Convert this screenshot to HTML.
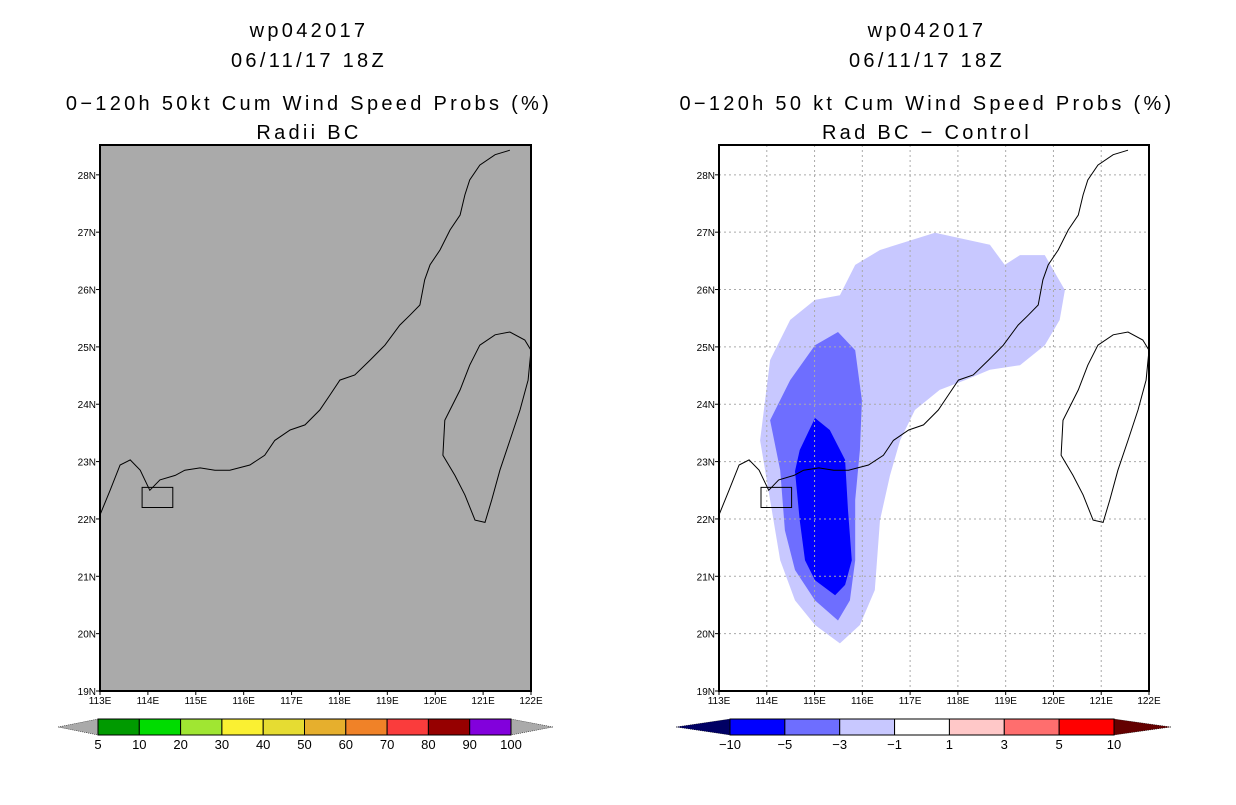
<!DOCTYPE html>
<html><head><meta charset="utf-8"><style>
body{margin:0;background:#fff;width:1236px;height:800px;overflow:hidden;font-family:"Liberation Sans",sans-serif}
svg text{font-family:"Liberation Sans",sans-serif}
</style></head><body>
<svg id="s" width="1236" height="800" viewBox="0 0 1236 800"></svg>
<script>
const latTicks=[19,20,21,22,23,24,25,26,27,28];
const lonTicks=[113,114,115,116,117,118,119,120,121,122];
const leftLevels=["5","10","20","30","40","50","60","70","80","90","100"];
const leftColors=["#009a00","#00dc00","#a0e632","#faf032","#e6dc32","#e6af2d","#f08228","#fa3c3c","#960000","#8200dc"];
const rightLevels=["-10","-5","-3","-1","1","3","5","10"];
const rightColors=["#0000ff","#6e6eff","#c8c8ff","#ffffff","#ffc8c8","#ff6e6e","#ff0000"];
const coast=[[113.00,22.07],[113.21,22.50],[113.42,22.94],[113.63,23.03],[113.84,22.85],[114.04,22.50],[114.25,22.68],[114.57,22.76],[114.77,22.85],[115.09,22.89],[115.40,22.85],[115.71,22.85],[116.13,22.94],[116.44,23.11],[116.65,23.37],[116.97,23.55],[117.28,23.64],[117.59,23.90],[117.80,24.16],[118.01,24.42],[118.32,24.51],[118.64,24.77],[118.95,25.03],[119.26,25.38],[119.47,25.55],[119.68,25.73],[119.78,26.17],[119.89,26.43],[120.10,26.69],[120.31,27.04],[120.52,27.30],[120.62,27.65],[120.72,27.91],[120.93,28.17],[121.25,28.35],[121.56,28.43]];
const taiwan=[[120.93,25.03],[121.25,25.21],[121.56,25.26],[121.87,25.12],[122.0,24.94],[121.94,24.42],[121.77,23.90],[121.56,23.37],[121.35,22.85],[121.18,22.33],[121.04,21.94],[120.83,21.98],[120.62,22.42],[120.41,22.76],[120.16,23.11],[120.20,23.72],[120.52,24.25],[120.72,24.68]];
const probLight=[[113.86,23.37],[114.07,24.77],[114.49,25.47],[115.01,25.82],[115.53,25.90],[115.85,26.43],[116.37,26.69],[117.52,26.99],[118.67,26.78],[118.98,26.43],[119.30,26.60],[119.82,26.60],[120.24,25.99],[120.13,25.47],[119.82,25.03],[119.30,24.68],[118.67,24.60],[118.15,24.42],[117.62,24.25],[117.10,23.90],[116.79,23.37],[116.58,22.76],[116.37,21.98],[116.26,20.76],[115.95,20.15],[115.53,19.83],[115.01,20.15],[114.59,20.58],[114.28,21.28],[114.07,22.33]];
const probMed=[[114.07,23.72],[114.49,24.42],[115.01,25.03],[115.49,25.26],[115.85,24.94],[115.99,24.07],[115.95,23.20],[115.85,22.33],[115.85,21.28],[115.74,20.58],[115.49,20.23],[115.01,20.58],[114.59,21.11],[114.38,21.80],[114.28,22.85]];
const probDark=[[114.59,22.83],[114.69,23.20],[115.01,23.76],[115.32,23.55],[115.64,23.03],[115.70,22.15],[115.78,21.28],[115.64,20.85],[115.43,20.67],[115.01,20.93],[114.80,21.28],[114.69,21.98]];
const NS='http://www.w3.org/2000/svg';
const svg=document.getElementById('s');
function mk(t,a,p){const e=document.createElementNS(NS,t);for(const k in a)e.setAttribute(k,a[k]);(p||svg).appendChild(e);return e;}
function txt(x,y,s,size,anchor,p){const e=mk('text',{x:x,y:y,'font-size':size,'text-anchor':anchor||'middle',fill:'#000'},p);e.textContent=s;return e;}
const LAT0=19,LAT1=28.52,LON0=113,LON1=122,T=145,B=691;
function panel(x0,x1,name){
  const g=mk('g',{});
  
  
  const X=lon=>x0+(lon-LON0)/(LON1-LON0)*(x1-x0);
  const Y=lat=>B-(lat-LAT0)/(LAT1-LAT0)*(B-T);
  return {g,X,Y,x0,x1};
}
function pts(arr,P){return arr.map(p=>P.X(p[0]).toFixed(1)+','+P.Y(p[1]).toFixed(1)).join(' ');}
function frame(P,bg){
  const r=mk('rect',{x:P.x0,y:T,width:P.x1-P.x0,height:B-T,fill:bg},P.g);
  
  
  return r;
}
function gridAndAxes(P,grid){
  if(grid){
    lonTicks.forEach(l=>mk('line',{x1:P.X(l),x2:P.X(l),y1:T,y2:B,stroke:'#aaa','stroke-dasharray':'2,3','stroke-width':1},P.g));
    latTicks.forEach(l=>mk('line',{x1:P.x0,x2:P.x1,y1:P.Y(l),y2:P.Y(l),stroke:'#aaa','stroke-dasharray':'2,3','stroke-width':1},P.g));
  }
  const c=mk('polyline',{points:pts(coast,P),fill:'none',stroke:'#000','stroke-width':1},P.g);
  
  
  const tw=mk('polygon',{points:pts(taiwan,P),fill:'none',stroke:'#000','stroke-width':1},P.g);
  
  
  mk('polygon',{points:pts([[113.88,22.2],[114.52,22.2],[114.52,22.55],[113.88,22.55]],P),fill:'none',stroke:'#000','stroke-width':1},P.g);
  mk('rect',{x:P.x0,y:T,width:P.x1-P.x0,height:B-T,fill:'none',stroke:'#000','stroke-width':2},P.g);
  latTicks.forEach(l=>{mk('line',{x1:P.x0-4,x2:P.x0,y1:P.Y(l),y2:P.Y(l),stroke:'#000'},P.g);const t=txt(P.x0-4,P.Y(l)+4,l+'N',10,'end',P.g);});
  lonTicks.forEach(l=>{mk('line',{x1:P.X(l),x2:P.X(l),y1:B,y2:B+4,stroke:'#000'},P.g);const t=txt(P.X(l),B+13,l+'E',10,'middle',P.g);});
}
function colorbar(bx0,bx1,tipL,tipR,colors,labels,lc,rc,name){
  const g=mk('g',{});
  
  
  const y0=719,y1=735,ym=727,w=(bx1-bx0)/colors.length;
  mk('polygon',{points:`${tipL},${ym} ${bx0},${y0} ${bx0},${y1}`,fill:lc,stroke:'#000','stroke-width':0.5,'stroke-dasharray':'1,1'},g);
  mk('polygon',{points:`${tipR},${ym} ${bx1},${y0} ${bx1},${y1}`,fill:rc,stroke:'#000','stroke-width':0.5,'stroke-dasharray':'1,1'},g);
  colors.forEach((c,i)=>mk('rect',{x:bx0+i*w,y:y0,width:w,height:y1-y0,fill:c,stroke:'#000','stroke-width':1},g));
  labels.forEach((s,i)=>txt(bx0+i*w,749,s.replace('-','\u2212'),13,'middle',g));
}
[[309,'wp042017','06/11/17 18Z','0\u2212120h 50kt Cum Wind Speed Probs (%)','Radii BC'],[927,'wp042017','06/11/17 18Z','0\u2212120h 50 kt Cum Wind Speed Probs (%)','Rad BC \u2212 Control']].forEach((t,i)=>{
  const g=mk('g',{'letter-spacing':'3.3px'});
  
  
  txt(t[0],37,t[1],20,'middle',g);txt(t[0],67,t[2],20,'middle',g);txt(t[0],110,t[3],20,'middle',g);txt(t[0],139,t[4],20,'middle',g);
});
const L=panel(100,531,'left-map');
frame(L,'#aaaaaa');gridAndAxes(L,false);
const R=panel(719,1149,'right-map');
frame(R,'#ffffff');
[[probLight,'#c8c8ff','contour-minus1'],[probMed,'#6e6eff','contour-minus3'],[probDark,'#0000ff','contour-minus5']].forEach(c=>{
  const p=mk('polygon',{points:pts(c[0],R),fill:c[1],stroke:'none'},R.g);
  
  
});
gridAndAxes(R,true);
colorbar(98,511,58,553,leftColors,leftLevels,'#aaaaaa','#aaaaaa','left-colorbar');
colorbar(730,1114,676,1171,rightColors,rightLevels,'#000064','#640000','right-colorbar');
</script>
</body></html>
